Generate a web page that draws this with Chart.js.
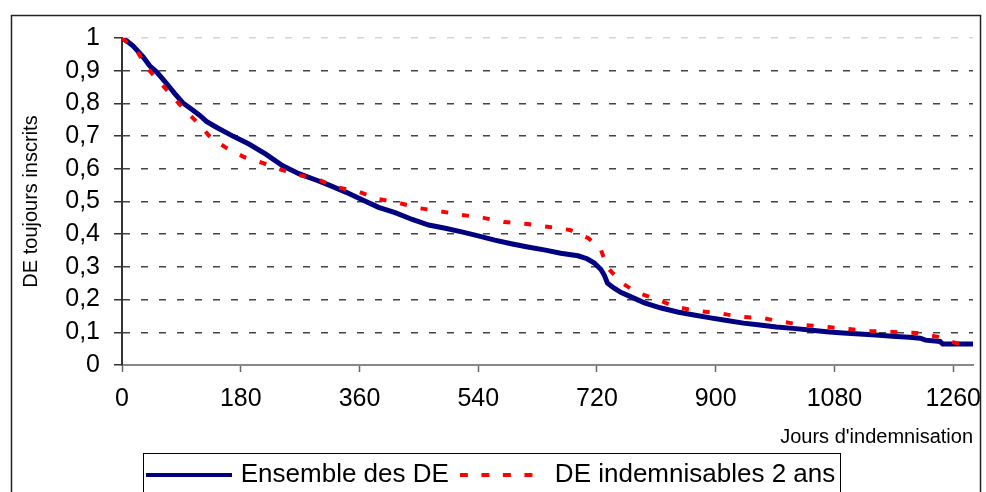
<!DOCTYPE html>
<html>
<head>
<meta charset="utf-8">
<script src="https://cdn.jsdelivr.net/npm/chart.js@4/dist/chart.umd.min.js"></script>
<style>
  html, body { margin: 0; padding: 0; background: #fff; overflow: hidden; }
  #wrap { width: 986px; height: 498px; }
</style>
</head>
<body>
<div id="wrap"><canvas id="chart"></canvas></div>
<script>
// tick labels
const xTicks = [0, 180, 360, 540, 720, 900, 1080, 1260];
const yTicks = [0, 0.1, 0.2, 0.3, 0.4, 0.5, 0.6, 0.7, 0.8, 0.9, 1];

// Ensemble des DE
const daysAll = [0, 8, 17, 32, 42, 53, 68, 80, 92, 107, 118, 128, 143, 168, 193, 218, 243, 268, 299, 314,
    340, 364, 389, 414, 440, 465, 490, 515, 540, 565, 590, 615, 640, 665, 691, 705, 716, 726, 731, 736,
    746, 756, 770, 792, 816, 842, 867, 892, 917, 942, 967, 992, 1017, 1042, 1068, 1093, 1118, 1143, 1168, 1193,
    1210, 1218, 1240, 1244, 1290];
const shareAll = [1.0, 0.99, 0.975, 0.942, 0.915, 0.895, 0.86, 0.83, 0.802, 0.78, 0.763, 0.745, 0.727, 0.70, 0.675, 0.645, 0.61, 0.585, 0.562, 0.55,
    0.528, 0.505, 0.482, 0.466, 0.445, 0.428, 0.418, 0.407, 0.395, 0.382, 0.371, 0.361, 0.352, 0.342, 0.334, 0.325, 0.312, 0.292, 0.275, 0.25,
    0.235, 0.222, 0.21, 0.19, 0.175, 0.162, 0.153, 0.144, 0.136, 0.128, 0.122, 0.116, 0.112, 0.107, 0.102, 0.098, 0.095, 0.092, 0.088, 0.085,
    0.082, 0.076, 0.072, 0.064, 0.064];

// DE indemnisables 2 ans
const daysTwoYears = [0, 22, 37, 54, 72, 92, 118, 135, 158, 185, 213, 243, 268, 299, 324, 359, 387, 419, 449, 480,
    515, 548, 580, 615, 648, 679, 707, 726, 736, 757, 779, 808, 839, 872, 905, 937, 970, 1001, 1035, 1071,
    1102, 1134, 1169, 1204, 1237, 1264, 1284];
const shareTwoYears = [1.0, 0.963, 0.911, 0.872, 0.832, 0.786, 0.734, 0.694, 0.664, 0.636, 0.618, 0.596, 0.581, 0.566, 0.544, 0.53, 0.508, 0.496, 0.48, 0.471,
    0.459, 0.45, 0.437, 0.431, 0.422, 0.413, 0.388, 0.352, 0.298, 0.252, 0.223, 0.203, 0.178, 0.165, 0.159, 0.147, 0.144, 0.132, 0.122, 0.116,
    0.110, 0.104, 0.101, 0.098, 0.086, 0.067, 0.062];

const seriesNames = ["Ensemble des DE", "DE indemnisables 2 ans"];

const FONT = "'Liberation Sans', Arial, sans-serif";

function toPoints(xs, ys) {
    return xs.map((x, i) => ({ x: x, y: ys[i] }));
}

// little line sample used as the legend marker (the legend ignores borderDash with point styles)
function legendLine(color, width, dash) {
    const c = document.createElement("canvas");
    c.width = 86;
    c.height = 8;
    const g = c.getContext("2d");
    g.strokeStyle = color;
    g.lineWidth = width;
    g.setLineDash(dash);
    g.beginPath();
    g.moveTo(0, 4);
    g.lineTo(86, 4);
    g.stroke();
    return c;
}

// white page, outer frame and the box round the legend
const framePlugin = {
    id: "frame",
    beforeDraw(chart) {
        const ctx = chart.ctx;
        ctx.save();
        ctx.fillStyle = "#fff";
        ctx.fillRect(0, 0, chart.width, chart.height);
        ctx.strokeStyle = "#222";
        ctx.lineWidth = 1.5;
        ctx.strokeRect(11.5, 15.5, 969, 500);
        ctx.lineWidth = 1;
        ctx.strokeStyle = "#000";
        ctx.strokeRect(143.5, 453.5, 697, 60);
        ctx.restore();
    }
};

const ctx = document.getElementById("chart").getContext("2d");

new Chart(ctx, {
    type: "line",
    data: {
        datasets: [
            {
                label: seriesNames[0],
                data: toPoints(daysAll, shareAll),
                borderColor: "#000080",
                backgroundColor: "#000080",
                borderWidth: 5,
                pointRadius: 0,
                pointStyle: legendLine("#000080", 4, []),
                tension: 0,
                order: 1
            },
            {
                label: seriesNames[1],
                data: toPoints(daysTwoYears, shareTwoYears),
                borderColor: "#ff0000",
                backgroundColor: "#ff0000",
                borderWidth: 4,
                borderDash: [7, 14],
                borderCapStyle: "butt",
                pointRadius: 0,
                pointStyle: legendLine("#ff0000", 4, [8, 13.5]),
                tension: 0,
                order: 0
            }
        ]
    },
    options: {
        responsive: true,
        maintainAspectRatio: false,
        animation: false,
        layout: { padding: { left: 12, right: 13, top: 38, bottom: 0 } },
        plugins: {
            tooltip: { enabled: false },
            legend: {
                position: "bottom",
                labels: {
                    usePointStyle: true,
                    pointStyleWidth: 78,
                    padding: 15,
                    color: "#000",
                    font: { family: FONT, size: 26 },
                    sort: (a, b) => a.datasetIndex - b.datasetIndex
                }
            }
        },
        scales: {
            x: {
                type: "linear",
                min: 0,
                max: 1290,
                afterBuildTicks: (s) => { s.ticks = xTicks.map(v => ({ value: v })); },
                afterFit: (s) => { s.height = 82; s.paddingRight = 0; },
                ticks: {
                    color: "#000",
                    padding: 12,
                    maxRotation: 0,
                    autoSkip: false,
                    font: { family: FONT, size: 25 },
                    callback: (v) => String(v)
                },
                grid: {
                    drawOnChartArea: false,
                    drawTicks: true,
                    tickLength: 7,
                    tickColor: "#666",
                    tickWidth: 1.5
                },
                border: { color: "#888", width: 2 },
                title: {
                    display: true,
                    text: "Jours d'indemnisation",
                    align: "end",
                    color: "#000",
                    padding: { top: 0, bottom: -2 },
                    font: { family: FONT, size: 20 }
                }
            },
            y: {
                min: 0,
                max: 1,
                afterBuildTicks: (s) => { s.ticks = yTicks.map(v => ({ value: v })); },
                afterFit: (s) => { s.width = 110; },
                ticks: {
                    color: "#000",
                    padding: 14,
                    autoSkip: false,
                    font: { family: FONT, size: 25 },
                    callback: (v) => (v === 0 || v === 1) ? String(v) : v.toFixed(1).replace(".", ",")
                },
                grid: {
                    color: (c) => (c.tick && c.tick.value === 1) ? "#d4d4d4" : "#444",
                    lineWidth: 1.5,
                    tickLength: 8,
                    tickColor: "#333",
                    tickBorderDash: [],
                    tickWidth: 1.5
                },
                border: { color: "#333", width: 2, dash: [7, 11] },
                title: {
                    display: true,
                    text: "DE toujours inscrits",
                    color: "#000",
                    padding: { top: 7, bottom: 0 },
                    font: { family: FONT, size: 20 }
                }
            }
        }
    },
    plugins: [framePlugin]
});
</script>
</body>
</html>
